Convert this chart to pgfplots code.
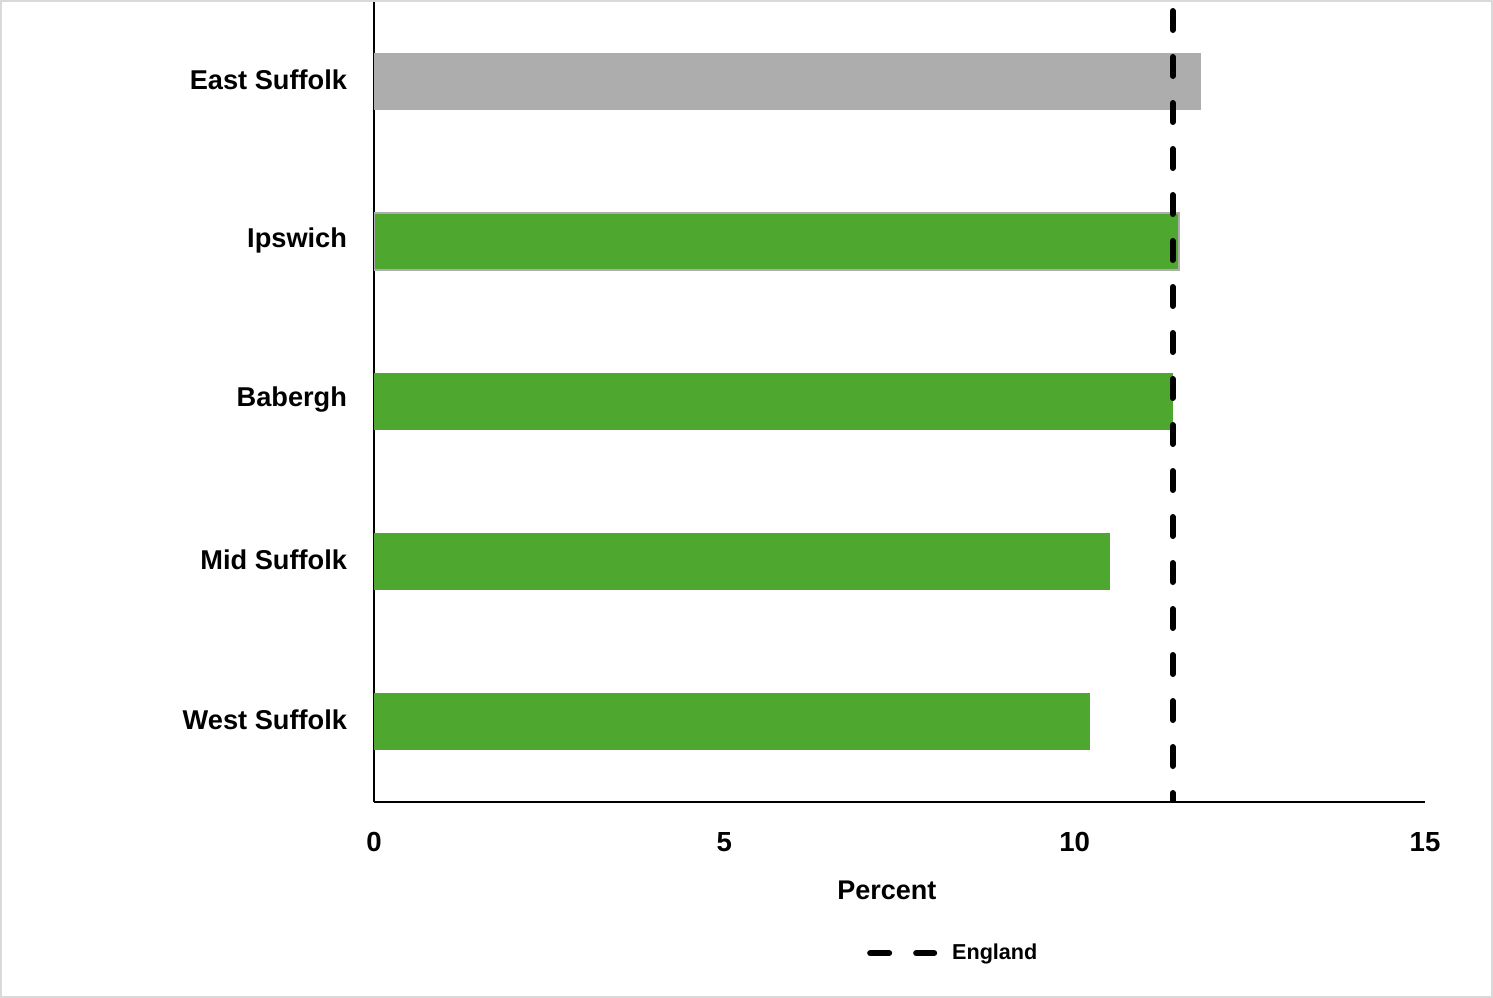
\documentclass[border=0pt]{standalone}
\usepackage{pgfplots}
\pgfplotsset{compat=1.18}
\usepackage{fontspec}
\setmainfont{Liberation Sans}
\definecolor{barg}{HTML}{4EA72E}
\definecolor{barz}{HTML}{ADADAD}
\definecolor{frame}{HTML}{D9D9D9}
\begin{document}
\begin{tikzpicture}
\useasboundingbox (0,0) rectangle (746.5bp,499bp);
\fill[white] (0,0) rectangle (746.5bp,499bp);
\draw[frame, line width=1bp] (0.5bp,0.5bp) rectangle (746bp,498.5bp);
\begin{axis}[
  at={(187bp,98bp)}, anchor=south west,
  width=525.5bp, height=400bp, scale only axis,
  xmin=0, xmax=15, ymin=-0.5, ymax=4.5,
  xtick={0,5,10,15}, ytick={0,1,2,3,4},
  yticklabels={West Suffolk, Mid Suffolk, Babergh, Ipswich, East Suffolk},
  axis x line=bottom, axis y line=left,
  axis line style={-, line width=1bp, black},
  major tick length=0pt,
  /pgf/number format/assume math mode=true,
  xticklabel style={font=\fontsize{13.8bp}{16bp}\selectfont\bfseries, yshift=-11.5bp},
  yticklabel style={font=\fontsize{13.6bp}{16bp}\selectfont\bfseries, xshift=-10bp, yshift=1bp},
  xlabel={Percent},
  xlabel style={font=\fontsize{13.5bp}{16bp}\selectfont\bfseries, at={(axis description cs:0.488,0)}, anchor=north, yshift=-36bp},
  bar width=28.5bp,
  legend style={at={(axis description cs:0.466,-0.189)}, anchor=west, draw=none, fill=none, inner sep=0pt,
    font=\fontsize{10.8bp}{13bp}\selectfont\bfseries},
  legend cell align=left,
  legend image code/.code={\draw[#1, dash phase=0bp] (1.5bp,0bp) -- (33.5bp,0bp); \path (0bp,0bp) (39bp,0bp);},
]
\addplot[xbar, bar shift=0pt, fill=barz, draw=none, forget plot] coordinates {(11.80,4)};
\addplot[xbar, bar shift=0pt, fill=barg, draw=barz, line width=1bp, forget plot] coordinates {(11.49,3)};
\addplot[xbar, bar shift=0pt, fill=barg, draw=none, forget plot] coordinates {(11.41,2)};
\addplot[xbar, bar shift=0pt, fill=barg, draw=none, forget plot] coordinates {(10.50,1)};
\addplot[xbar, bar shift=0pt, fill=barg, draw=none, forget plot] coordinates {(10.22,0)};
\addplot[black, line width=3bp, line cap=round, dash pattern=on 9.5bp off 13.5bp, dash phase=18.5bp] coordinates {(11.40,4.5) (11.40,-0.5)};
\addlegendentry{England}
\end{axis}
\end{tikzpicture}
\end{document}
